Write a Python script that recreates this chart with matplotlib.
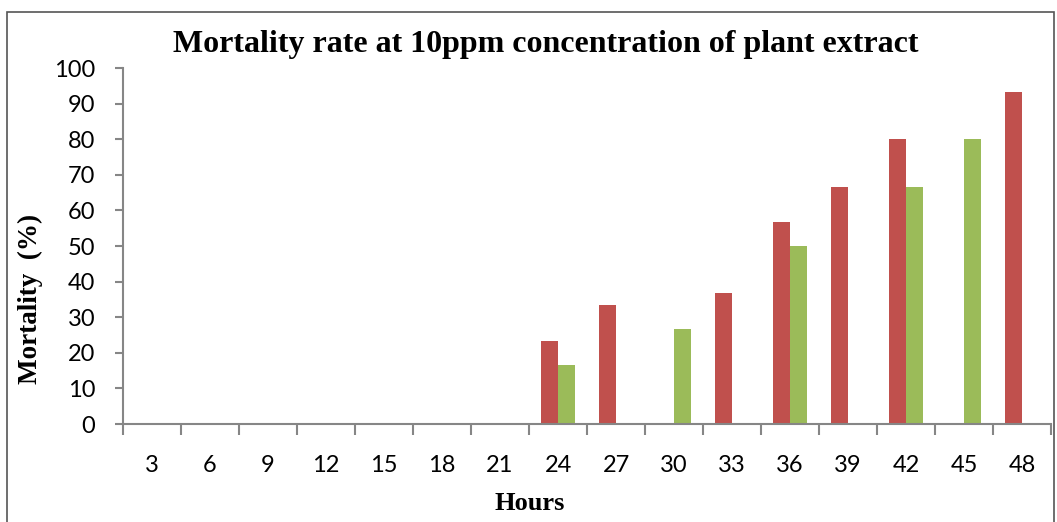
import matplotlib
matplotlib.use("Agg")
import matplotlib.pyplot as plt
import numpy as np
from matplotlib.patches import Rectangle

# hours after treatment
hours = [3, 6, 9, 12, 15, 18, 21, 24, 27, 30, 33, 36, 39, 42, 45, 48]
# mortality (%) for the two series
red_vals = [0, 0, 0, 0, 0, 0, 0, 23.3, 33.3, 0, 36.7, 56.7, 66.7, 80, 0, 93.3]
green_vals = [0, 0, 0, 0, 0, 0, 0, 16.7, 0, 26.7, 0, 50, 0, 66.7, 80, 0]
y_ticks = list(range(0, 101, 10))

red = '#C0504D'
green = '#9BBB59'
axis_col = '#868686'

fig = plt.figure(figsize=(10.57, 5.22), dpi=100)
ax = fig.add_axes([0.1164, 0.1877, 0.878, 0.682])

x = np.arange(len(hours))
w = 0.286
ax.bar(x - w / 2, red_vals, width=w, color=red, edgecolor='none')
ax.bar(x + w / 2, green_vals, width=w, color=green, edgecolor='none')

ax.set_xlim(-0.5, len(hours) - 0.5)
ax.set_ylim(0, 100)

# labels at category centres, tick marks at the boundaries
ax.set_xticks(x)
ax.set_xticklabels([str(h) for h in hours], fontsize=17, family='Lato')
ax.set_xticks(np.arange(len(hours) + 1) - 0.5, minor=True)
ax.tick_params(axis='x', which='major', length=0, pad=22)
ax.tick_params(axis='x', which='minor', length=8, width=1.5, color=axis_col, direction='out')

ax.set_yticks(y_ticks)
ax.set_yticklabels([str(v) for v in y_ticks], fontsize=17, family='Lato')
ax.tick_params(axis='y', length=6, width=1.5, color=axis_col, pad=14)

for s in ['top', 'right']:
    ax.spines[s].set_visible(False)
for s in ['left', 'bottom']:
    ax.spines[s].set_color(axis_col)
    ax.spines[s].set_linewidth(1.5)

fig.text(0.516, 0.914, 'Mortality rate at 10ppm concentration of plant extract',
         ha='center', va='center', fontsize=23, fontweight='bold', family='Liberation Serif')
fig.text(0.501, 0.036, 'Hours', ha='center', va='center',
         fontsize=19, fontweight='bold', family='Liberation Serif')
fig.text(0.029, 0.428, 'Mortality  (%)', ha='center', va='center', rotation=90,
         fontsize=19.5, fontweight='bold', family='Liberation Serif')

# outer chart border
fig.patches.append(Rectangle((0.007, -0.01), 0.99, 0.987, transform=fig.transFigure,
                             fill=False, edgecolor='#555555', linewidth=1.2))

fig.savefig('out.png', dpi=100)
